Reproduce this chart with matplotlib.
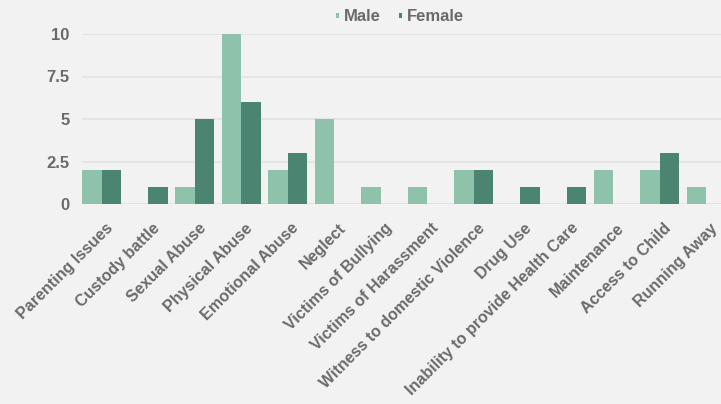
import numpy as np
import matplotlib.pyplot as plt
import matplotlib.transforms as mtransforms

categories = ["Parenting Issues", "Custody battle", "Sexual Abuse", "Physical Abuse",
              "Emotional Abuse", "Neglect", "Victims of Bullying", "Victims of Harassment",
              "Witness to domestic Violence", "Drug Use", "Inability to provide Health Care",
              "Maintenance", "Access to Child", "Running Away"]
male = [2, 0, 1, 10, 2, 5, 1, 1, 2, 0, 0, 2, 2, 1]
female = [2, 1, 5, 6, 3, 0, 0, 0, 2, 1, 1, 0, 3, 0]
yticks = [0, 2.5, 5, 7.5, 10]
ytick_labels = ["0", "2.5", "5", "7.5", "10"]

c_male = "#8fc2aa"
c_female = "#4b8572"
bg = "#f2f2f2"
txt = "#6a6a6a"

plt.rcParams['font.family'] = ['Liberation Sans', 'DejaVu Sans']

fig = plt.figure(figsize=(7.21, 4.04), dpi=100, facecolor=bg)
# axes placed in pixels: left 82, right 721, bottom at y=204, top at y=34
ax = fig.add_axes([82/721, (404-204)/404, (721-82)/721, (204-34)/404])
ax.set_facecolor(bg)

x = np.arange(len(categories))
w = 0.42
ax.bar(x - w/2, male, w, color=c_male, label="Male", zorder=3)
ax.bar(x + w/2, female, w, color=c_female, label="Female", zorder=3)

ax.set_xlim(-0.42, 13.32)
ax.set_ylim(0, 10)
ax.set_yticks(yticks)
ax.set_yticklabels(ytick_labels, fontsize=12, fontweight='bold', color=txt)
ax.yaxis.grid(True, color="#e2e2e2", lw=1.2, zorder=0)
ax.set_axisbelow(True)
for s in ax.spines.values():
    s.set_visible(False)
ax.tick_params(axis='both', length=0, colors=txt)
ax.tick_params(axis='y', pad=9)

ax.set_xticks(x)
ax.set_xticklabels(categories, rotation=45, ha='right', va='center',
                   rotation_mode='anchor', fontsize=11.5, fontweight='bold', color=txt)
offset = mtransforms.ScaledTranslation(9/100, -17/100, fig.dpi_scale_trans)
for lab in ax.get_xticklabels():
    lab.set_transform(lab.get_transform() + offset)

leg = fig.legend(loc='center', bbox_to_anchor=(0.555, 0.958), ncol=2, frameon=False,
                 handlelength=0.15, handleheight=0.15, handletextpad=0.3, columnspacing=1.1,
                 prop={'size': 12, 'weight': 'bold'})
for t in leg.get_texts():
    t.set_color(txt)

fig.savefig("out.png", dpi=100, facecolor=bg)
